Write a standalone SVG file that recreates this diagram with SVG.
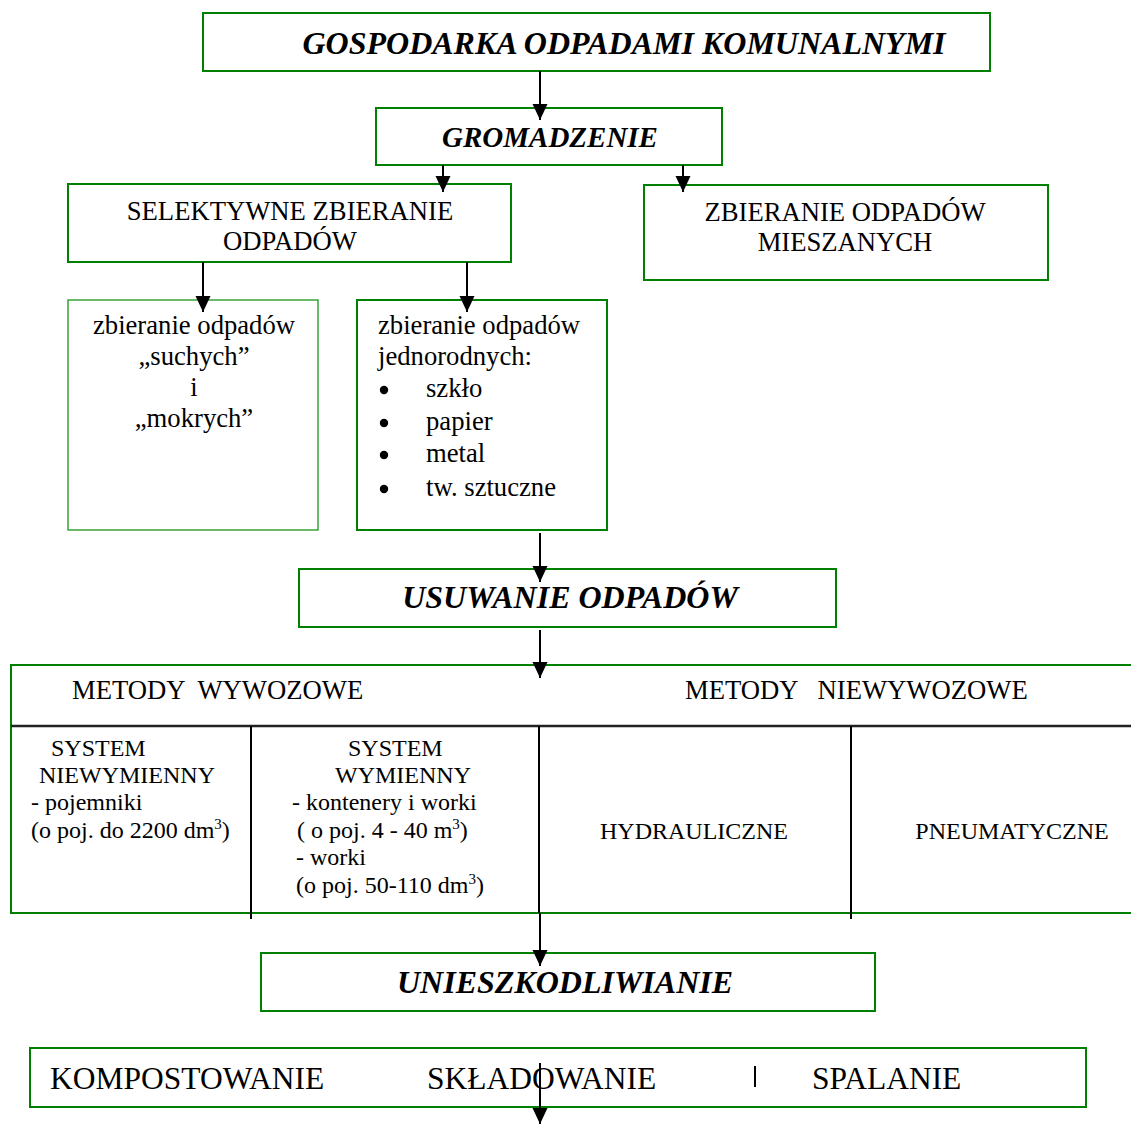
<svg xmlns="http://www.w3.org/2000/svg" width="1131" height="1124" viewBox="0 0 1131 1124">
<style>
text{font-family:"Liberation Serif","Times New Roman",serif;fill:#000}
.bi{font-weight:bold;font-style:italic}
.box{fill:#fff;stroke:#008000;stroke-width:2}
.thin{fill:#fff;stroke:#1a941a;stroke-width:1.3}
.div{stroke:#000;stroke-width:2}
.conn{stroke:#000;stroke-width:2;fill:none}
.m{text-anchor:middle}
</style>
<defs>
<marker id="ah" markerUnits="userSpaceOnUse" markerWidth="17" markerHeight="16" refX="16" refY="7.5" orient="auto">
<path d="M0,0 L16,7.5 L0,15 z" fill="#000"/>
</marker>
</defs>

<g id="n-gospodarka">
<rect class="box" x="203" y="13" width="787" height="58"/>
<text class="bi m" x="624" y="54" font-size="32">GOSPODARKA ODPADAMI KOMUNALNYMI</text>
</g>

<g id="n-gromadzenie">
<rect class="box" x="376" y="108" width="346" height="57"/>
<text class="bi m" x="550" y="147" font-size="29">GROMADZENIE</text>
</g>

<g id="n-selektywne">
<rect class="box" x="68" y="184" width="443" height="78"/>
<text class="m" x="290" y="220" font-size="26.67">SELEKTYWNE ZBIERANIE</text>
<text class="m" x="290" y="250" font-size="26.67">ODPADÓW</text>
</g>

<g id="n-mieszane">
<rect class="box" x="644" y="185" width="404" height="95"/>
<text class="m" x="845" y="221" font-size="26.67">ZBIERANIE ODPADÓW</text>
<text class="m" x="845" y="251" font-size="26.67">MIESZANYCH</text>
</g>

<g id="n-suche-mokre">
<rect class="thin" x="68" y="300" width="250" height="230"/>
<text class="m" x="194" y="334" font-size="26.67">zbieranie odpadów</text>
<text class="m" x="194" y="365" font-size="26.67">„suchych”</text>
<text class="m" x="194" y="396" font-size="26.67">i</text>
<text class="m" x="194" y="427" font-size="26.67">„mokrych”</text>
</g>

<g id="n-jednorodne">
<rect class="box" x="357" y="300" width="250" height="230"/>
<text x="378" y="334" font-size="26.67">zbieranie odpadów</text>
<text x="378" y="365" font-size="26.67">jednorodnych:</text>
<circle cx="384" cy="390" r="4.2"/>
<text x="426" y="397" font-size="26.67">szkło</text>
<circle cx="384" cy="423" r="4.2"/>
<text x="426" y="430" font-size="26.67">papier</text>
<circle cx="384" cy="455" r="4.2"/>
<text x="426" y="462" font-size="26.67">metal</text>
<circle cx="384" cy="489" r="4.2"/>
<text x="426" y="496" font-size="26.67">tw. sztuczne</text>
</g>

<g id="n-usuwanie">
<rect class="box" x="299" y="569" width="537" height="58"/>
<text class="bi m" x="570" y="608" font-size="32">USUWANIE ODPADÓW</text>
</g>

<g id="n-metody">
<rect class="box" x="11" y="665" width="1130" height="248"/>
<line x1="11" y1="726" x2="1131" y2="726" stroke="#222" stroke-width="2.5"/>
<line class="div" x1="251" y1="726" x2="251" y2="919"/>
<line class="div" x1="539" y1="726" x2="539" y2="913"/>
<line class="div" x1="851" y1="726" x2="851" y2="919"/>
<text x="72" y="699" font-size="26.67" xml:space="preserve">METODY  WYWOZOWE</text>
<text x="685" y="699" font-size="26.67" xml:space="preserve">METODY   NIEWYWOZOWE</text>
<g font-size="24">
<text x="51" y="756">SYSTEM</text>
<text x="39" y="783">NIEWYMIENNY</text>
<text x="31" y="810">- pojemniki</text>
<text x="31" y="838">(o poj. do 2200 dm<tspan dy="-9" font-size="15">3</tspan><tspan dy="9">)</tspan></text>
<text x="348" y="756">SYSTEM</text>
<text x="335" y="783">WYMIENNY</text>
<text x="292" y="810">- kontenery i worki</text>
<text x="297" y="838">( o poj. 4 - 40 m<tspan dy="-9" font-size="15">3</tspan><tspan dy="9">)</tspan></text>
<text x="296" y="865">- worki</text>
<text x="296" y="893">(o poj. 50-110 dm<tspan dy="-9" font-size="15">3</tspan><tspan dy="9">)</tspan></text>
<text class="m" x="694" y="839">HYDRAULICZNE</text>
<text class="m" x="1012" y="839">PNEUMATYCZNE</text>
</g>
</g>

<g id="n-unieszkodliwianie">
<rect class="box" x="261" y="953" width="614" height="58"/>
<text class="bi m" x="565" y="993" font-size="32">UNIESZKODLIWIANIE</text>
</g>

<g id="n-metody-unieszkodliwiania">
<rect class="box" x="30" y="1048" width="1056" height="59"/>
<text x="50" y="1089" font-size="31.5">KOMPOSTOWANIE</text>
<text x="427" y="1089" font-size="31.5">SKŁADOWANIE</text>
<line class="div" x1="755" y1="1066" x2="755" y2="1087" stroke-width="1.5"/>
<text x="812" y="1089" font-size="31.5">SPALANIE</text>
</g>

<g id="connectors">
<line class="conn" x1="540" y1="71" x2="540" y2="120" marker-end="url(#ah)"/>
<line class="conn" x1="443" y1="165" x2="443" y2="192" marker-end="url(#ah)"/>
<line class="conn" x1="683" y1="165" x2="683" y2="192" marker-end="url(#ah)"/>
<line class="conn" x1="203" y1="262" x2="203" y2="312" marker-end="url(#ah)"/>
<line class="conn" x1="467" y1="262" x2="467" y2="312" marker-end="url(#ah)"/>
<line class="conn" x1="540" y1="533" x2="540" y2="582" marker-end="url(#ah)"/>
<line class="conn" x1="540" y1="630" x2="540" y2="678" marker-end="url(#ah)"/>
<line class="conn" x1="540" y1="913" x2="540" y2="966" marker-end="url(#ah)"/>
<line class="conn" x1="540" y1="1063" x2="540" y2="1124" marker-end="url(#ah)"/>
</g>
</svg>
